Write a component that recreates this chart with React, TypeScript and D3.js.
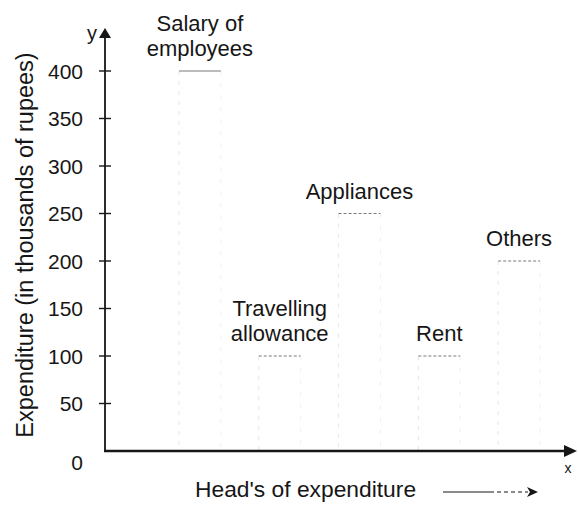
import * as d3 from 'd3'

const categories = ['Salary of employees', 'Travelling allowance', 'Appliances', 'Rent', 'Others']
const labelLines = [['Salary of', 'employees'], ['Travelling', 'allowance'], ['Appliances'], ['Rent'], ['Others']]
const expenditure = [400, 100, 250, 100, 200]
const yTicks = [0, 50, 100, 150, 200, 250, 300, 350, 400]

const W = 578
const H = 506
const originX = 105
const originY = 451
const font = '"Liberation Sans", Arial, sans-serif'
const ink = '#161616'

export default function App() {
  const yScale = d3.scaleLinear().domain([0, 400]).range([originY, 71])
  const xScale = d3
    .scaleBand<string>()
    .domain(categories)
    .range([160, 559])
    .paddingInner(0.475)
    .paddingOuter(0.2375)

  return (
    <svg
      width={W}
      height={H}
      style={{ position: 'absolute', left: 0, top: 0, background: '#fff' }}
      fontFamily={font}
    >
      {/* bars: only faint outlines, like the scan */}
      {categories.map((c, i) => {
        const x = xScale(c) as number
        const w = xScale.bandwidth()
        const y = yScale(expenditure[i])
        return (
          <g key={c}>
            <line x1={x} x2={x} y1={y} y2={originY} stroke="#e6e6e6" strokeWidth={1} strokeDasharray="4 6" />
            <line x1={x + w} x2={x + w} y1={y} y2={originY} stroke="#efefef" strokeWidth={1} strokeDasharray="4 8" />
            <line x1={x} x2={x + w} y1={y} y2={y} stroke="#7a7a7a" strokeWidth={1.2} strokeDasharray={i === 0 ? 'none' : '3 2'} />
          </g>
        )
      })}

      {/* category labels */}
      {categories.map((c, i) => {
        const cx = (xScale(c) as number) + xScale.bandwidth() / 2
        const lines = labelLines[i]
        const base = yScale(expenditure[i]) - 15
        return (
          <text key={c} textAnchor="middle" fontSize={22} fill={ink}>
            {lines.map((l, j) => (
              <tspan key={l} x={cx} y={base - (lines.length - 1 - j) * 25}>
                {l}
              </tspan>
            ))}
          </text>
        )
      })}

      {/* y axis */}
      <line x1={originX} x2={originX} y1={originY + 1} y2={36} stroke={ink} strokeWidth={1.8} />
      <path d={`M${originX},28 L${originX - 6},38 L${originX + 6},38 Z`} fill={ink} />
      <text x={92} y={40} fontSize={20} fill={ink} textAnchor="middle">y</text>
      {yTicks.filter(t => t > 0).map(t => (
        <line key={t} x1={originX - 6} x2={originX + 6} y1={yScale(t)} y2={yScale(t)} stroke={ink} strokeWidth={1.4} />
      ))}
      {yTicks.map(t => (
        <text
          key={t}
          x={83}
          y={yScale(t) + (t === 0 ? 11 : 0)}
          dy="0.36em"
          textAnchor="end"
          fontSize={21}
          fill={ink}
        >
          {t}
        </text>
      ))}
      <text
        transform={`translate(33, 245) rotate(-90)`}
        textAnchor="middle"
        fontSize={23.5}
        fill={ink}
      >
        Expenditure (in thousands of rupees)
      </text>

      {/* x axis */}
      <line x1={originX - 1} x2={568} y1={originY} y2={originY} stroke={ink} strokeWidth={2.6} />
      <path d={`M577,${originY} L564,${originY - 6} L564,${originY + 6} Z`} fill={ink} />
      <text x={568} y={473} fontSize={14} fill={ink} textAnchor="middle">x</text>

      <text x={195} y={497} fontSize={22.8} fill={ink}>Head's of expenditure</text>
      <line x1={443} x2={490} y1={492} y2={492} stroke={ink} strokeWidth={1.2} />
      <line x1={490} x2={528} y1={492} y2={492} stroke={ink} strokeWidth={1.2} strokeDasharray="4 3" />
      <path d="M538,492 L527,487 L530,492 L527,497 Z" fill={ink} />
    </svg>
  )
}
